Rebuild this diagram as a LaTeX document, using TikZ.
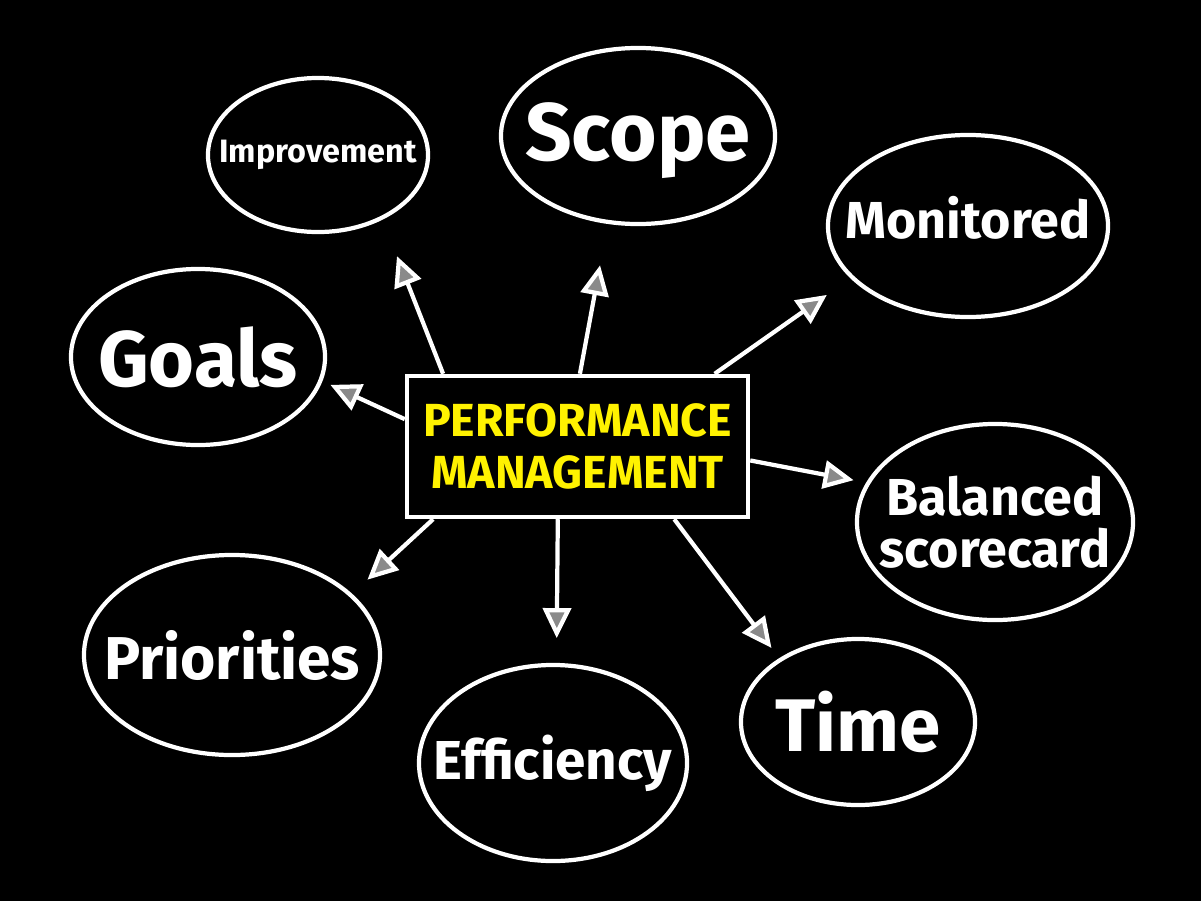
\documentclass[tikz,border=0pt]{standalone}
\usepackage{fontspec}
\setmainfont{Fira Sans}
\usepackage{tikz}
\usetikzlibrary{shapes.geometric, arrows.meta, calc}
\definecolor{boardblack}{HTML}{000000}
\definecolor{chalkwhite}{HTML}{FFFFFF}
\definecolor{markeryellow}{HTML}{FFF200}
\definecolor{hatchgray}{HTML}{8A8A8A}
\tikzset{
  bubble/.style={ellipse, draw=chalkwhite, line width=3pt, inner sep=0pt},
  every label/.style={text=chalkwhite, align=center, inner sep=0pt},
  hub/.style={rectangle, draw=chalkwhite, line width=3pt, text=markeryellow, inner sep=0pt, align=center,
              minimum width=8.53cm, minimum height=3.53cm, font=\bfseries\fontsize{33}{37}\selectfont},
  flow/.style={-{Triangle[length=7.5mm, width=7mm, fill=hatchgray]}, line width=3pt, color=chalkwhite},
}

\begin{document}
\begin{tikzpicture}[x=0.025cm, y=-0.025cm]
  \fill[boardblack] (0,0) rectangle (1201,901);
  \useasboundingbox (0,0) rectangle (1201,901);
  \node[hub] (hub) at (577.5,446.5) {PERFORMANCE\\MANAGEMENT};
  \node[bubble, minimum width=5.5cm, minimum height=3.85cm,
        label={[font=\bfseries\fontsize{23}{26}\selectfont]center:Improvement}] (improvement) at (318,155) {};
  \node[bubble, minimum width=6.85cm, minimum height=4.4cm,
        label={[font=\bfseries\fontsize{58}{60}\selectfont, yshift=-0.12cm]center:Scope}] (scope) at (638,136) {};
  \node[bubble, minimum width=7cm, minimum height=4.55cm,
        label={[font=\bfseries\fontsize{37}{40}\selectfont, yshift=0.2cm]center:Monitored}] (monitored) at (968,226) {};
  \node[bubble, minimum width=6.35cm, minimum height=4.4cm,
        label={[font=\bfseries\fontsize{56}{58}\selectfont]center:Goals}] (goals) at (198,357) {};
  \node[bubble, minimum width=6.9cm, minimum height=4.9cm,
        label={[font=\bfseries\fontsize{37}{37}\selectfont]center:Balanced\\scorecard}] (balanced) at (995,522) {};
  \node[bubble, minimum width=7.4cm, minimum height=5cm,
        label={[font=\bfseries\fontsize{43}{46}\selectfont]center:Priorities}] (priorities) at (232,655) {};
  \node[bubble, minimum width=6.7cm, minimum height=4.9cm,
        label={[font=\bfseries\fontsize{39}{42}\selectfont]center:Efficiency}] (efficiency) at (553,763) {};
  \node[bubble, minimum width=5.85cm, minimum height=4.15cm,
        label={[font=\bfseries\fontsize{53}{56}\selectfont]center:Time}] (time) at (858,722) {};
  \draw[flow, shorten >=0.98cm] ($(hub.north west)!0.111!(hub.north east)$) -- (improvement.-45.5);
  \draw[flow, shorten >=1.05cm] ($(hub.north west)!0.507!(hub.north east)$) -- (scope.-109.7);
  \draw[flow, shorten >=0.72cm] ($(hub.north west)!0.897!(hub.north east)$) -- (monitored.-156.8);
  \draw[flow, shorten >=0.22cm] ($(hub.north west)!0.312!(hub.south west)$) -- (goals.-11.3);
  \draw[flow, shorten >=0.32cm] ($(hub.north east)!0.596!(hub.south east)$) -- (balanced.163.6);
  \draw[flow, shorten >=0.52cm] ($(hub.south west)!0.082!(hub.south east)$) -- (priorities.27.5);
  \draw[flow, shorten >=0.62cm] ($(hub.south west)!0.443!(hub.south east)$) -- (efficiency.88);
  \draw[flow, shorten >=0.32cm] ($(hub.south west)!0.78!(hub.south east)$) -- (time.141.8);
\end{tikzpicture}
\end{document}
